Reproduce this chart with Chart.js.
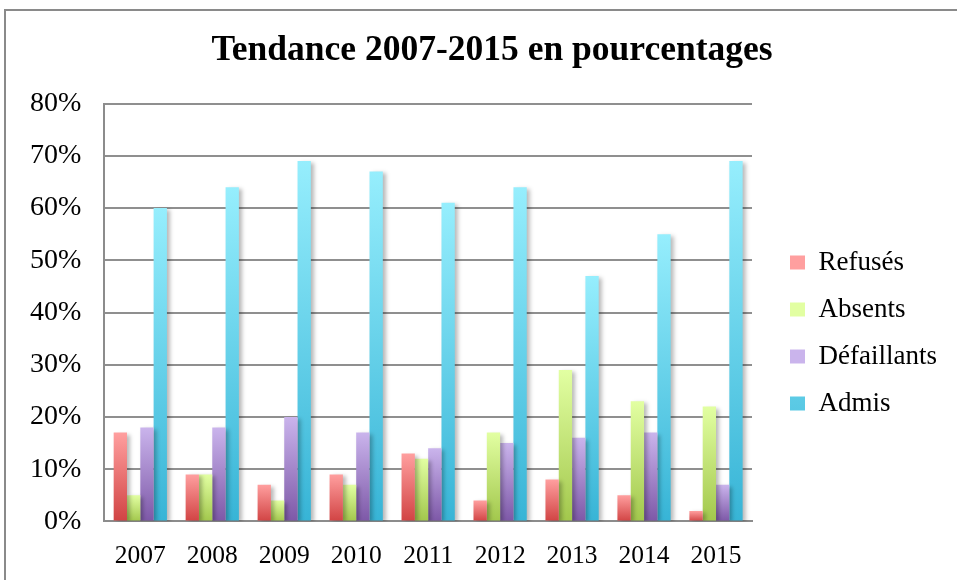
<!DOCTYPE html>
<html>
<head>
<meta charset="utf-8">
<script src="https://cdn.jsdelivr.net/npm/chart.js@4/dist/chart.umd.min.js"></script>
<style>
  html, body { margin: 0; padding: 0; background: #fff; overflow: hidden; }
  #frame { position: absolute; left: 4px; top: 9px; width: 1200px; height: 1200px; border: 2px solid #8a8a8a; box-sizing: border-box; }
  #wrap { position: absolute; left: 0; top: 0; width: 957px; height: 580px; }
</style>
</head>
<body>
<div id="frame"></div>
<div id="wrap"><canvas id="c" width="957" height="580"></canvas></div>
<script>
const years = ['2007','2008','2009','2010','2011','2012','2013','2014','2015'];
const refuses     = [17, 9, 7, 9, 13, 4, 8, 5, 2];
const absents     = [5, 9, 4, 7, 12, 17, 29, 23, 22];
const defaillants = [18, 18, 20, 17, 14, 15, 16, 17, 7];
const admis       = [60, 64, 69, 67, 61, 64, 47, 55, 69];
const seriesNames = ['Refusés', 'Absents', 'Défaillants', 'Admis'];

const palettes = [
  { top: '#ff9f9f', bottom: '#d14343', mid: '#ec7272' },
  { top: '#e2ffa2', bottom: '#a2c74c', mid: '#c6e47a' },
  { top: '#cab4ec', bottom: '#7d58a7', mid: '#a488cc' },
  { top: '#96eefd', bottom: '#37b4d6', mid: '#66d0ea' }
];

function gradientFor(pal) {
  return function(ctx) {
    const chart = ctx.chart;
    if (ctx.type !== 'data' || !chart.chartArea || !chart.scales.y) return pal.mid;
    const y = chart.scales.y;
    const v = ctx.parsed ? ctx.parsed.y : ctx.raw;
    const top = y.getPixelForValue(v);
    const base = y.getPixelForValue(0);
    if (!isFinite(top) || !isFinite(base) || Math.abs(base - top) < 1) return pal.mid;
    const g = chart.ctx.createLinearGradient(0, top, 0, base);
    g.addColorStop(0, pal.top);
    g.addColorStop(1, pal.bottom);
    return g;
  };
}

const shadowPlugin = {
  id: 'barShadow',
  beforeDatasetsDraw(chart) {
    const c = chart.ctx;
    c.save();
    c.shadowColor = 'rgba(0,0,0,0.28)';
    c.shadowBlur = 4;
    c.shadowOffsetX = 3;
    c.shadowOffsetY = 2;
  },
  afterDatasetsDraw(chart) {
    chart.ctx.restore();
  }
};

// legend box: fixed width so the plot ends where the reference does, then nudged into place
const LEGEND_WIDTH = 205;
const LEGEND_LEFT = 770;
const LEGEND_DY = 37;
const TITLE_DX = 10;
const legendPlace = {
  id: 'legendPlace',
  beforeLayout(chart) {
    const lg = chart.legend;
    if (lg && !lg._fixedFit) {
      const f = lg.fit;
      lg.fit = function() { f.call(this); this.width = LEGEND_WIDTH; };
      lg._fixedFit = true;
    }
  },
  afterLayout(chart) {
    const lg = chart.legend;
    if (lg) {
      lg.left = LEGEND_LEFT;
      lg.right = LEGEND_LEFT + lg.width;
      lg.top += LEGEND_DY;
      lg.bottom += LEGEND_DY;
    }
    const tb = chart.titleBlock;
    if (tb) {
      tb.left += TITLE_DX;
      tb.right += TITLE_DX;
    }
  }
};

const dataSets = [refuses, absents, defaillants, admis].map((arr, i) => ({
  label: seriesNames[i],
  data: arr,
  backgroundColor: gradientFor(palettes[i]),
  borderWidth: 0,
  categoryPercentage: 0.74,
  barPercentage: 1.0
}));

new Chart(document.getElementById('c'), {
  type: 'bar',
  data: { labels: years, datasets: dataSets },
  plugins: [shadowPlugin, legendPlace],
  options: {
    responsive: false,
    animation: false,
    devicePixelRatio: 1,
    layout: { padding: { left: 7, right: 0, top: 0, bottom: -12 } },
    plugins: {
      title: {
        display: true,
        text: 'Tendance 2007-2015 en pourcentages',
        color: '#000',
        font: { family: 'Liberation Serif', size: 35.5, weight: 'bold' },
        padding: { top: 30, bottom: 31 }
      },
      legend: {
        position: 'right',
        align: 'center',
        labels: {
          color: '#000',
          font: { family: 'Liberation Serif', size: 27 },
          boxWidth: 15,
          boxHeight: 14,
          padding: 20
        }
      },
      tooltip: { enabled: false }
    },
    scales: {
      x: {
        grid: { display: false, drawTicks: false },
        border: { display: true, color: '#8c8c8c', width: 2 },
        ticks: {
          color: '#000',
          font: { family: 'Liberation Serif', size: 25.5 },
          padding: 20,
          maxRotation: 0
        }
      },
      y: {
        min: 0,
        max: 80,
        grid: { color: '#8f8f8f', lineWidth: 2, drawTicks: false },
        border: { display: true, color: '#8c8c8c', width: 2 },
        ticks: {
          stepSize: 10,
          color: '#000',
          font: { family: 'Liberation Serif', size: 28 },
          padding: 23,
          callback: v => v + '%'
        }
      }
    }
  }
});
</script>
</body>
</html>
